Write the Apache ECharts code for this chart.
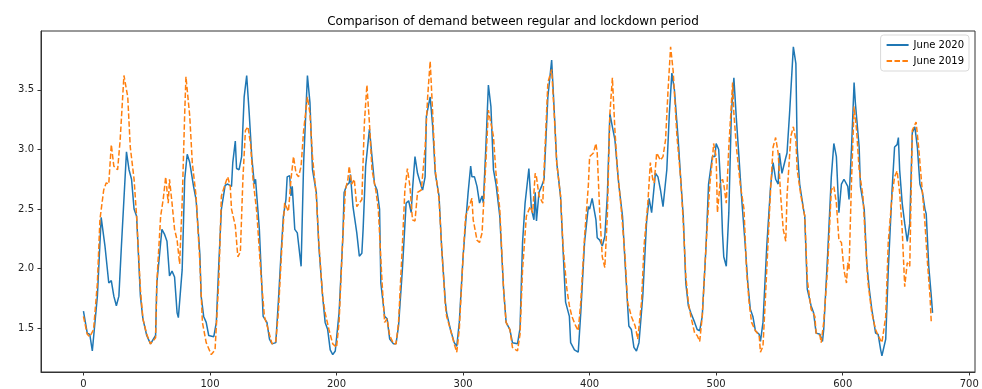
<!DOCTYPE html>
<html>
<head>
<meta charset="utf-8">
<script src="https://cdn.jsdelivr.net/npm/echarts@6/dist/echarts.min.js"></script>
<style>
  html, body { margin: 0; padding: 0; background: #fff; }
  #main { width: 982px; height: 389px; }
</style>
</head>
<body>
<div id="main"></div>
<script>
// hours since start of month at turning points
var hours2020 = [0,3,5,7,11,14,17,20,22,24,26,28,30,34,36,38,40,42,45,47,50,53,57,58,62,64,66,68,70,72,74,75,78,80,82,84,87,89,92,93,95,97,99,103,105,107,109,112,114,117,118,120,121,123,125,127,129,131,133,135,136,139,142,145,147,149,152,154,156,158,160,161,163,164,165,167,169,172,174,177,179,181,184,186,189,191,193,195,197,199,202,205,206,208,210,211,213,214,216,218,220,221,223,226,228,230,232,234,235,238,240,242,245,247,249,252,255,257,259,260,262,264,265,267,268,270,271,274,276,278,281,283,286,287,290,293,295,297,300,302,304,306,307,309,311,313,315,316,318,320,322,324,326,329,332,334,337,339,343,345,347,349,352,354,356,357,358,360,362,364,367,370,372,374,377,379,381,384,385,388,391,393,396,399,400,402,405,406,408,410,412,414,416,418,420,423,426,428,431,433,435,437,439,442,445,447,449,450,452,454,456,458,461,463,465,467,470,472,474,476,478,480,483,485,487,489,492,494,497,499,500,502,504,505,506,508,510,512,514,516,518,520,523,525,527,529,531,534,535,537,540,543,545,547,549,550,552,555,556,558,561,563,564,566,569,570,572,575,577,579,582,584,585,588,591,593,595,597,599,601,604,605,607,609,610,613,614,617,619,621,623,626,628,630,631,634,636,639,641,643,644,645,647,649,651,653,655,657,659,661,663,665,666,668,670,671];
var demand2020 = [1.645,1.46,1.45,1.31,1.77,2.43,2.19,1.88,1.90,1.77,1.69,1.77,2.19,2.98,2.83,2.75,2.50,2.44,1.77,1.58,1.44,1.37,1.44,1.88,2.33,2.29,2.23,1.94,1.98,1.93,1.63,1.59,1.99,2.75,2.96,2.89,2.69,2.58,2.12,1.77,1.60,1.55,1.44,1.43,1.55,2.05,2.50,2.70,2.71,2.69,2.89,3.07,2.84,2.83,2.94,3.44,3.62,3.30,2.94,2.71,2.75,2.33,1.60,1.55,1.41,1.37,1.38,1.72,2.10,2.44,2.58,2.77,2.78,2.61,2.69,2.33,2.30,2.02,2.89,3.62,3.39,2.83,2.64,2.19,1.77,1.55,1.49,1.32,1.28,1.31,1.63,2.27,2.64,2.70,2.72,2.79,2.52,2.52,2.30,2.105,2.13,2.33,2.86,3.17,2.94,2.71,2.66,2.50,1.88,1.60,1.58,1.41,1.37,1.37,1.52,1.99,2.55,2.57,2.47,2.66,2.94,2.80,2.80,2.69,2.66,2.77,3.28,3.44,3.19,2.80,2.61,2.19,1.72,1.63,1.49,1.38,1.35,1.55,2.10,2.38,2.64,2.86,2.77,2.77,2.69,2.55,2.61,2.55,3.02,3.54,3.36,2.83,2.71,2.44,1.83,1.55,1.49,1.38,1.37,1.50,2.22,2.55,2.84,2.50,2.41,2.64,2.40,2.64,2.69,2.75,3.44,3.75,3.33,2.89,2.61,2.16,1.72,1.60,1.38,1.32,1.30,1.63,2.22,2.52,2.50,2.59,2.41,2.26,2.24,2.19,2.27,2.61,3.30,3.19,3.08,2.71,2.44,2.05,1.52,1.49,1.34,1.31,1.38,1.77,2.39,2.59,2.47,2.46,2.80,2.77,2.66,2.52,2.83,3.30,3.64,3.50,3.08,2.75,2.44,1.88,1.69,1.63,1.55,1.49,1.48,1.60,2.19,2.71,2.94,2.94,3.05,3.00,2.61,2.30,2.10,2.02,2.47,3.30,3.60,3.25,2.94,2.61,2.19,1.88,1.66,1.60,1.48,1.45,1.39,1.55,2.19,2.69,2.89,2.75,2.71,2.97,2.80,2.93,2.97,3.30,3.86,3.72,3.02,2.71,2.50,2.44,1.83,1.69,1.63,1.46,1.45,1.39,1.49,2.10,2.77,3.05,2.94,2.47,2.71,2.75,2.69,2.58,3.02,3.56,3.39,3.02,2.69,2.50,2.05,1.83,1.66,1.46,1.45,1.32,1.27,1.41,1.99,2.66,3.02,3.04,3.10,2.83,2.55,2.38,2.23,2.38,3.14,3.19,3.02,2.71,2.64,2.50,2.46,2.02,1.77,1.63];

var hours2019 = [0,3,5,8,11,13,16,18,20,22,24,27,29,32,35,37,40,42,45,47,50,53,57,58,61,63,65,67,68,70,72,74,76,78,80,81,84,86,89,92,94,97,101,104,107,109,112,114,116,117,120,122,124,126,128,130,132,134,137,140,143,146,149,152,154,157,159,162,164,166,168,170,172,174,177,179,181,184,186,189,191,194,197,200,202,205,207,209,210,212,214,216,218,220,222,224,226,228,231,233,236,238,240,242,245,247,249,252,254,256,258,260,262,264,265,267,270,272,274,276,278,281,283,286,287,290,293,295,297,300,302,304,307,308,311,313,315,318,320,322,324,326,329,332,334,337,339,343,345,347,350,353,355,357,358,360,363,364,367,370,372,374,377,379,382,384,386,389,391,393,396,399,400,403,405,406,408,410,412,414,416,418,420,422,425,428,430,433,436,438,441,443,446,448,450,451,453,456,458,460,462,464,466,469,472,474,476,478,480,483,485,487,489,492,495,497,498,500,501,503,505,506,508,510,513,514,516,519,522,524,526,528,531,534,535,537,539,541,543,545,547,549,551,553,555,556,559,561,563,564,567,570,572,575,578,579,582,583,585,588,591,593,595,597,599,601,603,604,605,607,609,611,613,616,618,620,623,626,628,631,634,636,639,641,643,645,647,649,651,653,655,658,660,663,665,667,669,670];
var demand2019 = [1.60,1.45,1.43,1.49,1.88,2.41,2.66,2.72,2.71,3.04,2.86,2.83,3.08,3.62,3.44,3.02,2.75,2.44,1.83,1.58,1.45,1.37,1.42,1.89,2.44,2.58,2.77,2.55,2.75,2.55,2.33,2.24,2.04,2.55,3.30,3.61,3.28,2.89,2.61,2.05,1.55,1.38,1.28,1.32,1.91,2.61,2.71,2.77,2.69,2.50,2.36,2.10,2.14,2.75,3.16,3.19,3.05,2.75,2.47,1.99,1.60,1.49,1.37,1.39,1.63,2.22,2.55,2.48,2.75,2.94,2.80,2.77,2.86,3.16,3.44,3.30,2.94,2.61,2.22,1.77,1.63,1.49,1.37,1.34,1.55,2.27,2.66,2.75,2.86,2.71,2.75,2.52,2.55,2.58,3.22,3.54,3.22,2.83,2.66,2.50,1.88,1.55,1.58,1.44,1.37,1.37,1.55,2.19,2.66,2.84,2.69,2.41,2.40,2.64,2.64,2.66,3.02,3.44,3.74,3.30,2.83,2.58,2.19,1.69,1.60,1.49,1.37,1.30,1.49,2.10,2.44,2.50,2.59,2.41,2.24,2.22,2.30,2.89,3.33,3.22,3.11,2.80,2.50,1.83,1.55,1.49,1.34,1.31,1.45,1.99,2.44,2.52,2.47,2.80,2.77,2.61,2.55,2.83,3.56,3.67,3.30,2.89,2.61,2.19,1.83,1.69,1.60,1.52,1.48,1.72,2.27,2.70,2.94,2.97,3.05,2.97,2.47,2.10,2.01,2.44,3.30,3.60,3.16,2.83,2.50,2.10,1.72,1.60,1.52,1.41,1.72,2.19,2.55,2.89,2.74,2.72,2.97,2.91,2.94,3.08,3.50,3.86,3.66,3.11,2.75,2.39,1.94,1.72,1.60,1.46,1.44,1.39,1.60,2.19,2.71,2.91,3.05,2.94,2.47,2.71,2.75,2.71,2.55,3.02,3.56,3.30,3.02,2.71,2.50,1.99,1.72,1.55,1.48,1.44,1.30,1.35,1.77,2.22,2.66,3.02,3.10,2.97,2.61,2.33,2.23,2.61,3.11,3.19,3.08,2.83,2.61,2.44,1.91,1.66,1.60,1.46,1.44,1.38,1.55,1.99,2.66,2.69,2.55,2.24,2.22,1.99,1.88,2.05,1.99,2.75,3.36,3.16,2.83,2.61,2.22,1.88,1.63,1.49,1.44,1.38,1.60,2.22,2.61,2.77,2.82,2.64,2.33,1.85,2.05,2.02,3.16,3.23,3.02,2.64,2.38,2.05,1.77,1.55];

var xTicks = [0, 100, 200, 300, 400, 500, 600, 700];
var yTicks = [1.5, 2.0, 2.5, 3.0, 3.5];

function pairs(xs, ys) {
  var out = [];
  for (var i = 0; i < xs.length; i++) out.push([xs[i], ys[i]]);
  return out;
}

var font = 'DejaVu Sans';
var chart = echarts.init(document.getElementById('main'));
chart.setOption({
  animation: false,
  title: {
    text: 'Comparison of demand between regular and lockdown period',
    left: 508,
    top: 11,
    textAlign: 'center',
    textStyle: { fontFamily: font, fontSize: 12, fontWeight: 'normal', color: '#000' }
  },
  legend: {
    data: ['June 2020', 'June 2019'],
    orient: 'vertical',
    right: 13,
    top: 35,
    padding: [5, 5],
    itemGap: 6,
    itemWidth: 22,
    itemHeight: 10,
    itemStyle: { opacity: 0 },
    borderColor: '#d9d9d9',
    borderWidth: 1,
    borderRadius: 3,
    backgroundColor: 'rgba(255,255,255,0.8)',
    textStyle: { fontFamily: font, fontSize: 10, color: '#000' }
  },
  grid: {
    left: 41, top: 31, width: 934, height: 342,
    show: true, borderColor: '#333', borderWidth: 1,
    containLabel: false
  },
  xAxis: {
    type: 'value',
    min: -33.55,
    max: 704.55,
    splitLine: { show: false },
    axisLine: { show: true, onZero: false, lineStyle: { color: '#333' } },
    axisTick: { show: true, length: 3.5, customValues: xTicks, lineStyle: { color: '#333' } },
    axisLabel: { customValues: xTicks, margin: 7, fontFamily: font, fontSize: 10, color: '#222' }
  },
  yAxis: {
    type: 'value',
    min: 1.134,
    max: 3.993,
    splitLine: { show: false },
    axisLine: { show: true, onZero: false, lineStyle: { color: '#333' } },
    axisTick: { show: true, length: 3.5, customValues: yTicks, lineStyle: { color: '#333' } },
    axisLabel: {
      customValues: yTicks, margin: 7, fontFamily: font, fontSize: 10, color: '#222',
      formatter: function (v) { return v.toFixed(1); }
    }
  },
  series: [
    {
      name: 'June 2020',
      type: 'line',
      symbol: 'none',
      data: pairs(hours2020, demand2020),
      lineStyle: { color: '#1f77b4', width: 1.5 },
      itemStyle: { color: '#1f77b4' }
    },
    {
      name: 'June 2019',
      type: 'line',
      symbol: 'none',
      data: pairs(hours2019, demand2019),
      lineStyle: { color: '#ff7f0e', width: 1.5, type: [5.5, 2.4] },
      itemStyle: { color: '#ff7f0e' }
    }
  ]
});
</script>
</body>
</html>
